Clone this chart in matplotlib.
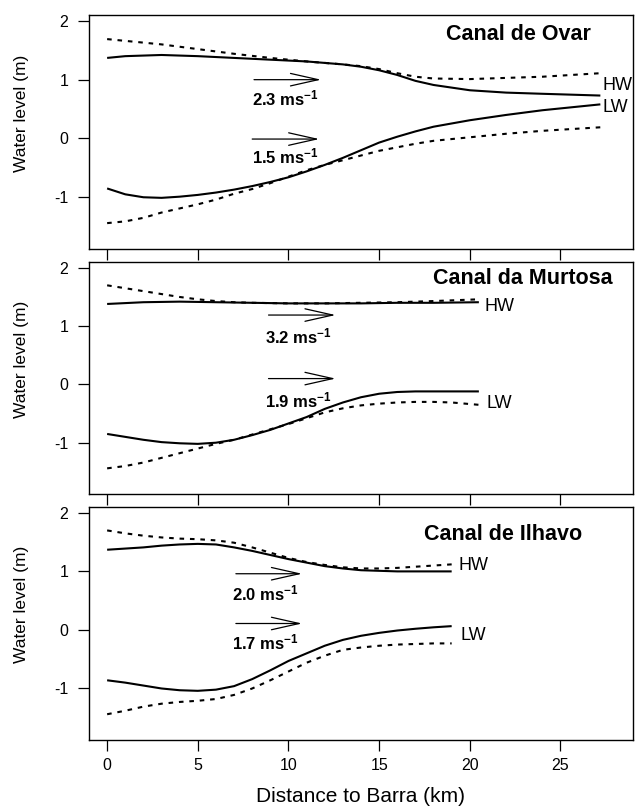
import matplotlib
matplotlib.use("Agg")
import matplotlib.pyplot as plt

plt.rcParams['font.family'] = ['Liberation Sans', 'DejaVu Sans']
plt.rcParams['mathtext.fontset'] = 'custom'
plt.rcParams['mathtext.rm'] = 'Liberation Sans'
plt.rcParams['mathtext.bf'] = 'Liberation Sans:bold'
plt.rcParams['mathtext.it'] = 'Liberation Sans:italic'
plt.rcParams['axes.unicode_minus'] = False

# ---------------- data ----------------
channels = ["Canal de Ovar", "Canal da Murtosa", "Canal de Ilhavo"]

# Canal de Ovar
ovar_hw_solid_x = [0, 1, 2, 3, 5, 7, 9, 11, 13, 14, 15, 16, 17, 18, 20, 22, 24, 27.2]
ovar_hw_solid_y = [1.37, 1.40, 1.41, 1.42, 1.40, 1.37, 1.34, 1.31, 1.26, 1.22, 1.16, 1.08, 0.98, 0.91, 0.82, 0.78, 0.76, 0.73]
ovar_hw_dot_x = [0, 1, 2, 3, 5, 7, 9, 11, 13, 14, 15, 16, 17, 18, 20, 22, 24, 27.2]
ovar_hw_dot_y = [1.69, 1.66, 1.63, 1.60, 1.52, 1.44, 1.37, 1.31, 1.26, 1.23, 1.18, 1.11, 1.05, 1.02, 1.01, 1.03, 1.05, 1.11]
ovar_lw_solid_x = [0, 1, 2, 3, 4, 5, 6, 7, 8, 9, 10, 11, 12, 13, 14, 15, 16, 17, 18, 20, 22, 24, 27.2]
ovar_lw_solid_y = [-0.85, -0.95, -1.00, -1.01, -0.99, -0.96, -0.92, -0.87, -0.81, -0.74, -0.66, -0.56, -0.45,
                   -0.33, -0.20, -0.07, 0.03, 0.12, 0.20, 0.31, 0.40, 0.48, 0.58]
ovar_lw_dot_x = [0, 1, 2, 3, 4, 5, 6, 7, 8, 9, 10, 11, 12, 13, 14, 15, 16, 17, 18, 20, 22, 24, 27.2]
ovar_lw_dot_y = [-1.44, -1.41, -1.35, -1.26, -1.19, -1.12, -1.04, -0.94, -0.86, -0.76, -0.65, -0.54, -0.45,
                 -0.37, -0.29, -0.21, -0.15, -0.09, -0.04, 0.02, 0.08, 0.13, 0.19]

# Canal da Murtosa
murt_hw_solid_x = [0, 2, 4, 6, 8, 10, 12, 14, 16, 18, 20.5]
murt_hw_solid_y = [1.38, 1.41, 1.42, 1.41, 1.40, 1.39, 1.39, 1.39, 1.40, 1.40, 1.41]
murt_hw_dot_x = [0, 1, 2, 3, 4, 5, 6, 7, 8, 10, 12, 14, 16, 18, 20.5]
murt_hw_dot_y = [1.70, 1.65, 1.60, 1.55, 1.50, 1.46, 1.43, 1.41, 1.40, 1.39, 1.39, 1.40, 1.41, 1.43, 1.46]
murt_lw_solid_x = [0, 1, 2, 3, 4, 5, 6, 7, 8, 9, 10, 11, 12, 13, 14, 15, 16, 17, 18, 20.5]
murt_lw_solid_y = [-0.85, -0.90, -0.95, -0.99, -1.01, -1.02, -1.00, -0.95, -0.87, -0.78, -0.67, -0.56, -0.42,
                   -0.31, -0.22, -0.16, -0.13, -0.12, -0.12, -0.12]
murt_lw_dot_x = [0, 1, 2, 3, 4, 5, 6, 7, 8, 9, 10, 11, 12, 13, 14, 15, 16, 17, 18, 19, 20.5]
murt_lw_dot_y = [-1.44, -1.40, -1.34, -1.26, -1.18, -1.10, -1.02, -0.95, -0.86, -0.77, -0.68, -0.58, -0.48,
                 -0.41, -0.36, -0.33, -0.31, -0.30, -0.30, -0.31, -0.35]

# Canal de Ilhavo
ilh_hw_solid_x = [0, 1, 2, 3, 4, 5, 6, 7, 8, 9, 10, 11, 12, 13, 14, 15, 16, 17, 19]
ilh_hw_solid_y = [1.37, 1.39, 1.41, 1.44, 1.46, 1.47, 1.46, 1.41, 1.35, 1.28, 1.21, 1.15, 1.09, 1.05, 1.02, 1.01,
                  1.00, 1.00, 1.00]
ilh_hw_dot_x = [0, 1, 2, 3, 4, 5, 6, 7, 8, 9, 10, 11, 12, 13, 14, 15, 16, 17, 18, 19]
ilh_hw_dot_y = [1.70, 1.65, 1.61, 1.58, 1.56, 1.55, 1.53, 1.49, 1.41, 1.32, 1.23, 1.16, 1.11, 1.07, 1.05, 1.05,
                1.06, 1.08, 1.10, 1.12]
ilh_lw_solid_x = [0, 1, 2, 3, 4, 5, 6, 7, 8, 9, 10, 11, 12, 13, 14, 15, 16, 17, 18, 19]
ilh_lw_solid_y = [-0.86, -0.90, -0.95, -1.00, -1.03, -1.04, -1.02, -0.96, -0.84, -0.69, -0.53, -0.40, -0.27,
                  -0.17, -0.10, -0.05, -0.01, 0.02, 0.045, 0.065]
ilh_lw_dot_x = [0, 1, 2, 3, 4, 5, 6, 7, 8, 9, 10, 11, 12, 13, 14, 15, 16, 17, 18, 19]
ilh_lw_dot_y = [-1.44, -1.38, -1.31, -1.26, -1.23, -1.21, -1.18, -1.11, -1.00, -0.86, -0.71, -0.56, -0.44,
                -0.34, -0.30, -0.27, -0.25, -0.24, -0.23, -0.23]

# Velocity annotations (m/s)
hw_speeds = ["2.3", "3.2", "2.0"]
lw_speeds = ["1.5", "1.9", "1.7"]

x_ticks = [0, 5, 10, 15, 20, 25]
y_ticks = [-1, 0, 1, 2]

series = [
    (ovar_hw_solid_x, ovar_hw_solid_y, ovar_hw_dot_x, ovar_hw_dot_y,
     ovar_lw_solid_x, ovar_lw_solid_y, ovar_lw_dot_x, ovar_lw_dot_y),
    (murt_hw_solid_x, murt_hw_solid_y, murt_hw_dot_x, murt_hw_dot_y,
     murt_lw_solid_x, murt_lw_solid_y, murt_lw_dot_x, murt_lw_dot_y),
    (ilh_hw_solid_x, ilh_hw_solid_y, ilh_hw_dot_x, ilh_hw_dot_y,
     ilh_lw_solid_x, ilh_lw_solid_y, ilh_lw_dot_x, ilh_lw_dot_y),
]

# ---------------- layout ----------------
W, H = 638, 810
fig = plt.figure(figsize=(W / 100, H / 100), dpi=100)
panels_px = [(15, 249), (262, 494), (507, 740)]
left_px, right_px = 89, 633

# annotation placement (data coords)
title_pos = [(26.7, 1.76), (27.9, 1.82), (26.2, 1.63)]
hw_lab_pos = [(27.3, 0.90), (20.8, 1.34), (19.4, 1.10)]
lw_lab_pos = [(27.3, 0.53), (20.9, -0.32), (19.5, -0.10)]
arr_hw = [(8.1, 11.8, 1.00), (8.9, 12.6, 1.19), (7.1, 10.75, 0.96)]
arr_lw = [(8.0, 11.7, -0.01), (8.9, 12.6, 0.10), (7.1, 10.75, 0.11)]
lab_hw = [(8.0, 0.68), (8.7, 0.82), (6.9, 0.62)]
lab_lw = [(8.0, -0.31), (8.7, -0.27), (6.9, -0.22)]

dot_style = (0, (2.2, 2.8))

for i, (top, bot) in enumerate(panels_px):
    ax = fig.add_axes([left_px / W, 1 - bot / H, (right_px - left_px) / W, (bot - top) / H])
    hsx, hsy, hdx, hdy, lsx, lsy, ldx, ldy = series[i]
    ax.plot(hsx, hsy, color='black', lw=1.5, solid_capstyle='butt', solid_joinstyle='round')
    ax.plot(hdx, hdy, color='black', lw=1.5, linestyle=dot_style)
    ax.plot(lsx, lsy, color='black', lw=1.5, solid_capstyle='butt', solid_joinstyle='round')
    ax.plot(ldx, ldy, color='black', lw=1.5, linestyle=dot_style)

    ax.set_xlim(-1, 29)
    ax.set_ylim(-1.88, 2.1)
    ax.set_xticks(x_ticks)
    ax.set_yticks(y_ticks)
    ax.tick_params(axis='both', direction='out', length=8, width=0.9, labelsize=11.5, color='black')
    ax.tick_params(axis='y', pad=7)
    ax.tick_params(axis='x', pad=5)
    if i < 2:
        ax.tick_params(axis='x', labelbottom=False)
    for s in ['top', 'right', 'left', 'bottom']:
        ax.spines[s].set_linewidth(1.0)
    ax.set_ylabel("Water level (m)", fontsize=12.5)
    ax.yaxis.set_label_coords(-0.11, 0.58)

    ax.text(title_pos[i][0], title_pos[i][1], channels[i], fontsize=15.5, fontweight='bold',
            ha='right', va='center')
    ax.text(hw_lab_pos[i][0], hw_lab_pos[i][1], "HW", fontsize=13, ha='left', va='center')
    ax.text(lw_lab_pos[i][0], lw_lab_pos[i][1], "LW", fontsize=13, ha='left', va='center')

    for (x0, x1, yy) in (arr_hw[i], arr_lw[i]):
        ax.annotate('', xy=(x1, yy), xytext=(x0, yy),
                    arrowprops=dict(arrowstyle='->,head_length=2.0,head_width=0.45',
                                    lw=0.9, color='black', shrinkA=0, shrinkB=0,
                                    mutation_scale=10))
    ax.text(lab_hw[i][0], lab_hw[i][1], hw_speeds[i] + r" ms$^{\mathbf{-1}}$", fontsize=12,
            fontweight='bold', ha='left', va='center')
    ax.text(lab_lw[i][0], lab_lw[i][1], lw_speeds[i] + r" ms$^{\mathbf{-1}}$", fontsize=12,
            fontweight='bold', ha='left', va='center')

    if i == 2:
        ax.set_xlabel("Distance to Barra (km)", fontsize=15, labelpad=10)

fig.savefig("out.png", dpi=100)
